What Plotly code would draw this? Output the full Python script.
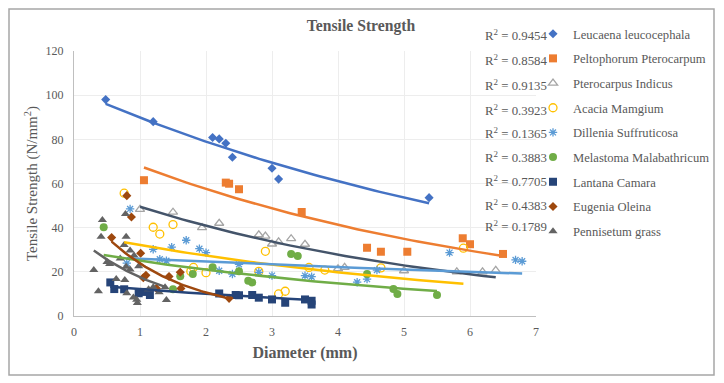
import numpy as np
import plotly.graph_objects as go

names = ["Leucaena leucocephala", "Peltophorum Pterocarpum", "Pterocarpus Indicus",
         "Acacia Mamgium", "Dillenia Suffruticosa", "Melastoma Malabathricum",
         "Lantana Camara", "Eugenia Oleina", "Pennisetum grass"]

leucaena_x = [0.48, 1.2, 2.10, 2.20, 2.30, 2.40, 3.0, 3.10, 5.38]
leucaena_y = [98, 88, 80.8, 80.2, 78.2, 71.9, 66.9, 62, 53.6]

peltophorum_x = [1.06, 2.30, 2.35, 2.50, 3.45, 4.44, 4.65, 5.05, 5.89, 6.0, 6.5]
peltophorum_y = [61.5, 60.4, 59.9, 57.4, 47.1, 30.9, 29.1, 29.1, 35.2, 32.5, 28.1]

pterocarpus_x = [1.0, 1.5, 1.94, 2.2, 2.8, 2.9, 3.0, 3.1, 3.29, 3.5, 4.0, 4.1, 5.0, 5.8, 6.19, 6.39]
pterocarpus_y = [48.3, 47, 40, 42, 36.8, 36.2, 32.6, 33.6, 35, 32.5, 21.4, 22, 20.5, 20, 20, 20.7]

acacia_x = [0.76, 1.2, 1.3, 1.5, 1.77, 1.81, 2.0, 2.8, 2.9, 3.1, 3.2, 3.56, 3.8, 4.65, 5.9]
acacia_y = [55.6, 40.2, 37.1, 41.4, 20.2, 22, 19.6, 20.2, 29.3, 10, 11.2, 22, 20.8, 21.8, 30.7]

dillenia_x = [0.80, 0.85, 1.2, 1.3, 1.4, 1.48, 1.7, 1.9, 2.0, 2.2, 2.4, 2.5, 2.8, 3.0, 3.5, 3.6,
              4.29, 4.44, 4.59, 5.69, 6.69, 6.79]
dillenia_y = [23.9, 48.5, 30.2, 25.7, 25, 31.2, 34.3, 30.5, 28.7, 20.5, 19, 23.4, 19.8, 18.3, 18.3, 17.8,
              15.3, 16.7, 20.8, 28.7, 25.4, 24.8]

melastoma_x = [0.45, 1.5, 1.61, 1.8, 2.1, 2.5, 2.64, 2.7, 3.29, 3.39, 4.44, 4.84, 4.9, 5.5]
melastoma_y = [40.2, 12.1, 18, 19, 22.1, 20.3, 16, 15.2, 28.1, 27.2, 19, 12.2, 10, 9.5]

lantana_x = [0.55, 0.61, 0.76, 0.98, 1.06, 1.15, 2.2, 2.45, 2.5, 2.7, 2.8, 3.0, 3.2, 3.5, 3.6, 3.6]
lantana_y = [15.2, 12.2, 12.1, 10.3, 10.9, 9.5, 10.2, 9.5, 9.4, 9.5, 8.3, 7.5, 6, 7.5, 6.9, 5.2]

eugenia_x = [0.57, 0.8, 0.87, 1.01, 1.05, 1.09, 1.25, 1.44, 1.61, 1.62, 2.35]
eugenia_y = [35.5, 54.5, 44.8, 28.4, 17.3, 18.4, 12.5, 17.9, 19.8, 12.5, 8]

pennisetum_x = [0.30, 0.37, 0.41, 0.43, 0.50, 0.54, 0.64, 0.70, 0.76, 0.78, 0.79, 0.77, 0.80, 0.79,
                0.85, 0.85, 0.90, 0.91, 0.96, 0.95, 0.98, 1.13, 1.20, 1.29, 1.38, 1.40]
pennisetum_y = [20.8, 11.2, 35.9, 43.5, 24.5, 23.5, 16.8, 26, 32.1, 46.2, 35.9, 16.3, 10.3, 22.3,
                29.7, 21.1, 8.4, 27.4, 5.9, 7.4, 22.5, 12.1, 13, 10.8, 13, 7.2]

# exponential trendline coefficients y = a * exp(b * x)
trend_a = [102.2, 80.2, 60.0, 37.7, 27.3, 29.9, 14.8, 53.4, 37.1]
trend_b = [-0.129, -0.1663, -0.1926, -0.161, -0.0518, -0.177, -0.197, -0.808, -0.748]
r_squared = ["0.9454", "0.8584", "0.9135", "0.3923", "0.1365", "0.3883", "0.7705", "0.4383", "0.1789"]

xs = [leucaena_x, peltophorum_x, pterocarpus_x, acacia_x, dillenia_x, melastoma_x, lantana_x, eugenia_x, pennisetum_x]
ys = [leucaena_y, peltophorum_y, pterocarpus_y, acacia_y, dillenia_y, melastoma_y, lantana_y, eugenia_y, pennisetum_y]

marker_colors = ["#4472C4", "#ED7D31", "#A5A5A5", "#FFC000", "#5B9BD5", "#70AD47", "#264478", "#9E480E", "#636363"]
line_colors = ["#4472C4", "#ED7D31", "#44546A", "#FFC000", "#5B9BD5", "#70AD47", "#264478", "#9E480E", "#636363"]
symbols = ["diamond", "square", "triangle-up-open", "circle-open", "asterisk-open", "circle", "square", "diamond", "triangle-up"]
sizes = [7, 8, 8, 8, 7, 8, 8, 7, 8]

FONT = "Liberation Serif"
GRAY = "#595959"

fig = go.Figure()
for i in range(9):
    fig.add_trace(go.Scatter(
        x=xs[i], y=ys[i], mode="markers", name=names[i], legendgroup=names[i],
        marker=dict(symbol=symbols[i], size=sizes[i], color=marker_colors[i],
                    line=dict(color=marker_colors[i], width=1.3 if "open" in symbols[i] else 0)),
    ))
for i in range(9):
    tx = np.linspace(min(xs[i]), max(xs[i]), 60)
    ty = trend_a[i] * np.exp(trend_b[i] * tx)
    fig.add_trace(go.Scatter(
        x=tx, y=ty, mode="lines", showlegend=False, hoverinfo="skip",
        line=dict(color=line_colors[i], width=2.5),
    ))

# page offset of the figure (browser body margin)
OFF = 8
# plot area in figure pixels
L, R, T, B = 74 - OFF, 536 - OFF, 51 - OFF, 316 - OFF
W, H = R - L, B - T
def px(x):
    return (x - OFF - L) / W
def py(y):
    return (B - (y - OFF)) / H

r2_y = [35, 60, 85, 110, 133, 157, 181, 205, 226]
for r, yy in zip(r_squared, r2_y):
    fig.add_annotation(text="R<sup>2</sup> = " + r, x=px(549), y=py(yy), xref="paper", yref="paper",
                       xanchor="right", yanchor="middle", showarrow=False,
                       font=dict(family=FONT, size=12.8, color=GRAY))

fig.add_shape(type="rect", xref="paper", yref="paper",
              x0=px(9), x1=px(714), y0=py(375), y1=py(9),
              line=dict(color="#A6A6A6", width=1.5), layer="below")

fig.update_layout(
    width=724, height=383,
    margin=dict(l=L, r=724 - R, t=T, b=383 - B, autoexpand=False),
    paper_bgcolor="white", plot_bgcolor="white",
    font=dict(family=FONT, color=GRAY, size=12),
    title=dict(text="<b>Tensile Strength</b>", x=px(361), xanchor="center", y=1 - (26 - OFF) / 383,
               yanchor="middle", xref="paper", font=dict(family=FONT, size=15.7, color=GRAY)),
    legend=dict(x=px(533), y=py(19), xanchor="left", yanchor="top", maxheight=1000,
                font=dict(family=FONT, size=12.6, color=GRAY), tracegroupgap=5.3,
                bgcolor="rgba(0,0,0,0)"),
    xaxis=dict(range=[0, 7], dtick=1, showgrid=True, gridcolor="#EDEDED",
               showline=True, linecolor="#BFBFBF", zeroline=False, ticks="",
               ticklabelstandoff=5,
               tickfont=dict(family=FONT, size=12, color=GRAY),
               title=dict(text="<b>Diameter (mm)</b>", font=dict(family=FONT, size=16, color=GRAY), standoff=8)),
    yaxis=dict(range=[0, 120], dtick=20, showgrid=True, gridcolor="#EDEDED",
               showline=True, linecolor="#BFBFBF", zeroline=False, ticks="",
               ticklabelstandoff=7,
               tickfont=dict(family=FONT, size=12, color=GRAY),
               title=dict(text="Tensile Strength (N/mm<sup>2</sup>)", font=dict(family=FONT, size=15, color=GRAY), standoff=4)),
)

fig.write_html("out.html")
